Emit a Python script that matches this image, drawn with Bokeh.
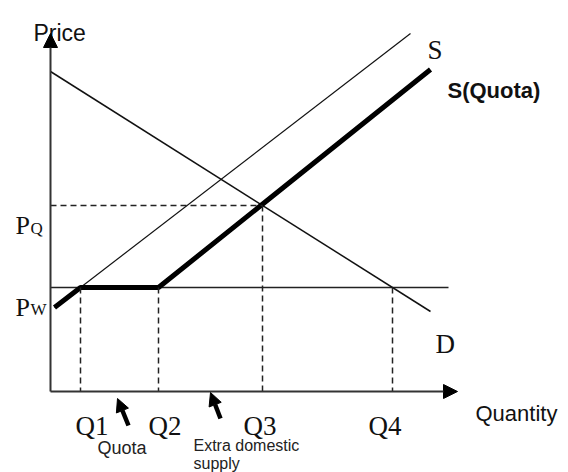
from bokeh.plotting import figure
from bokeh.models import Arrow, NormalHead, Range1d
from bokeh.core.properties import value
from bokeh.embed import file_html
from bokeh.resources import INLINE

# ---- data (arbitrary price / quantity units) ----
q_marks = [7.5, 27, 53, 85.5]
q_labels = ["Q1", "Q2", "Q3", "Q4"]
p_world = 26
p_quota = 46.5
demand_q = [0, 95]
demand_p = [80, 20]
supply_q = [1, 90]
supply_p = [21, 89.5]
squota_q = [1, 7.5, 27, 95]
squota_p = [21, 26, 26, 80.5]
pw_line_q = [0, 99.5]
axis_x_end = 101.75
axis_y_end = 89.5

SERIF = value("Liberation Serif")
SANS = value("Liberation Sans")

p = figure(width=568, height=472, x_range=Range1d(-12.5, 129.5), y_range=Range1d(-20.25, 97.75),
           output_backend="svg", toolbar_location=None, min_border=0,
           x_axis_type=None, y_axis_type=None)
p.grid.visible = False
p.outline_line_color = None

# axes with arrowheads
p.add_layout(Arrow(x_start=0, y_start=0, x_end=0, y_end=axis_y_end, line_width=2, line_color="#333333",
                   end=NormalHead(size=14, fill_color="black", line_color="black")))
p.add_layout(Arrow(x_start=0, y_start=0, x_end=axis_x_end, y_end=0, line_width=2, line_color="#333333",
                   end=NormalHead(size=14, fill_color="black", line_color="black")))

# world price line
p.line(pw_line_q, [p_world, p_world], line_color="#222222", line_width=1.6)
# demand
p.line(demand_q, demand_p, line_color="#111111", line_width=1.5)
# supply
p.line(supply_q, supply_p, line_color="#111111", line_width=1.2)
# supply with quota
p.line(squota_q, squota_p, line_color="black", line_width=5)

# dashed guides
vx = [[q, q] for q in q_marks]
vy = [[p_world, 0], [p_world, 0], [p_quota, 0], [p_world, 0]]
p.multi_line(vx, vy, line_color="#222222", line_width=1.5, line_dash="6 4")
p.line([0, q_marks[2]], [p_quota, p_quota], line_color="#222222", line_width=1.5, line_dash="6 4")

# Q labels
p.text(x=[6.25, 24.5, 48.25, 79.5], y=[-8.5] * 4, text=q_labels, text_font=SERIF,
       text_font_size="27px", text_baseline="alphabetic", text_align="left", text_color="#111111")

# price labels
p.text(x=[-8.75, -8.75], y=[41.5, 21], text=["P", "P"], text_font=SERIF, text_font_size="26px",
       text_baseline="alphabetic", text_align="left", text_color="#111111")
p.text(x=[-5, -5], y=[40.8, 20.5], text=["Q", "W"], text_font=SERIF, text_font_size="17px",
       text_baseline="alphabetic", text_align="left", text_color="#111111")

# curve labels
p.text(x=[94.25, 96.25], y=[85.5, 12], text=["S", "D"], text_font=SERIF, text_font_size="27px",
       text_baseline="alphabetic", text_align="left", text_color="#111111")
p.text(x=[99.25], y=[75.25], text=["S(Quota)"], text_font=SANS, text_font_size="22px",
       text_font_style="bold", text_baseline="alphabetic", text_align="left", text_color="#111111")

# axis titles
p.text(x=[-4.25], y=[89.75], text=["Price"], text_font=SANS, text_font_size="23px",
       text_baseline="alphabetic", text_align="left", text_color="#111111")
p.text(x=[106.25], y=[-5.5], text=["Quantity"], text_font=SANS, text_font_size="22px",
       text_baseline="alphabetic", text_align="left", text_color="#111111")

# annotations
p.text(x=[11.75], y=[-14], text=["Quota"], text_font=SANS, text_font_size="18px",
       text_baseline="alphabetic", text_align="left", text_color="#222222")
p.text(x=[35.75, 35.75], y=[-13.5, -18.0], text=["Extra domestic", "supply"], text_font=SANS,
       text_font_size="16px", text_baseline="alphabetic", text_align="left", text_color="#222222")

p.add_layout(Arrow(x_start=19.5, y_start=-8.5, x_end=16.75, y_end=-1.75, line_width=4.5, line_color="black",
                   end=NormalHead(size=13, fill_color="black", line_color="black")))
p.add_layout(Arrow(x_start=42.5, y_start=-6.75, x_end=40, y_end=-0.25, line_width=4.5, line_color="black",
                   end=NormalHead(size=13, fill_color="black", line_color="black")))

open("out.html", "w").write(file_html(p, INLINE))
